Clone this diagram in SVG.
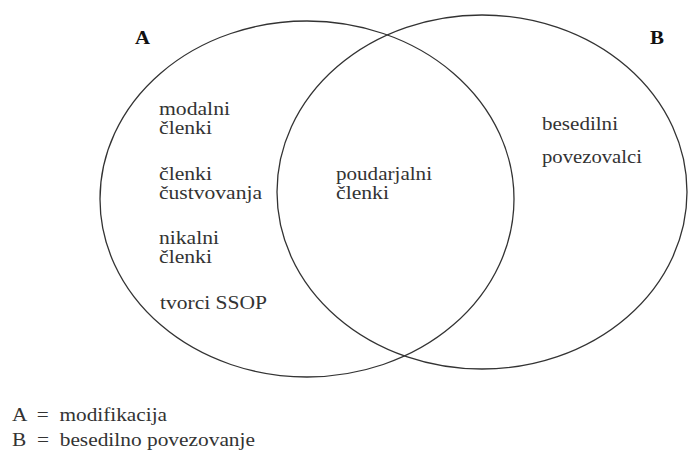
<svg xmlns="http://www.w3.org/2000/svg" width="688" height="459" viewBox="0 0 688 459">
<style>
.set{fill:none;stroke:#333;stroke-width:1.3}
.t{font-family:"Liberation Serif","DejaVu Serif",serif;font-size:18px;fill:#333}
.lbl{font-family:"Liberation Serif","DejaVu Serif",serif;font-size:19px;font-weight:bold;fill:#111}
</style>
<rect width="688" height="459" fill="#fff"/>
<g id="setA">
<ellipse class="set" cx="307" cy="199" rx="207" ry="178"/>
<text class="lbl" x="135" y="44" textLength="15" lengthAdjust="spacingAndGlyphs">A</text>
</g>
<g id="setB">
<ellipse class="set" cx="482" cy="192" rx="205" ry="177"/>
<text class="lbl" x="650" y="44" textLength="14" lengthAdjust="spacingAndGlyphs">B</text>
</g>
<g id="items-A">
<text class="t" x="159" y="115" textLength="71" lengthAdjust="spacingAndGlyphs">modalni</text>
<text class="t" x="159" y="134" textLength="53" lengthAdjust="spacingAndGlyphs">členki</text>
<text class="t" x="159" y="180" textLength="53" lengthAdjust="spacingAndGlyphs">členki</text>
<text class="t" x="159" y="199" textLength="103" lengthAdjust="spacingAndGlyphs">čustvovanja</text>
<text class="t" x="159" y="244" textLength="60" lengthAdjust="spacingAndGlyphs">nikalni</text>
<text class="t" x="159" y="263" textLength="53" lengthAdjust="spacingAndGlyphs">členki</text>
<text class="t" x="160" y="309" textLength="107" lengthAdjust="spacingAndGlyphs">tvorci SSOP</text>
</g>
<g id="items-AB">
<text class="t" x="336" y="180" textLength="96" lengthAdjust="spacingAndGlyphs">poudarjalni</text>
<text class="t" x="336" y="199" textLength="53" lengthAdjust="spacingAndGlyphs">členki</text>
</g>
<g id="items-B">
<text class="t" x="542" y="130" textLength="76" lengthAdjust="spacingAndGlyphs">besedilni</text>
<text class="t" x="542" y="163" textLength="100" lengthAdjust="spacingAndGlyphs">povezovalci</text>
</g>
<g id="legend">
<text class="t" x="12" y="421" textLength="155" lengthAdjust="spacingAndGlyphs" xml:space="preserve">A  =  modifikacija</text>
<text class="t" x="12" y="446" textLength="243" lengthAdjust="spacingAndGlyphs" xml:space="preserve">B  =  besedilno povezovanje</text>
</g>
</svg>
